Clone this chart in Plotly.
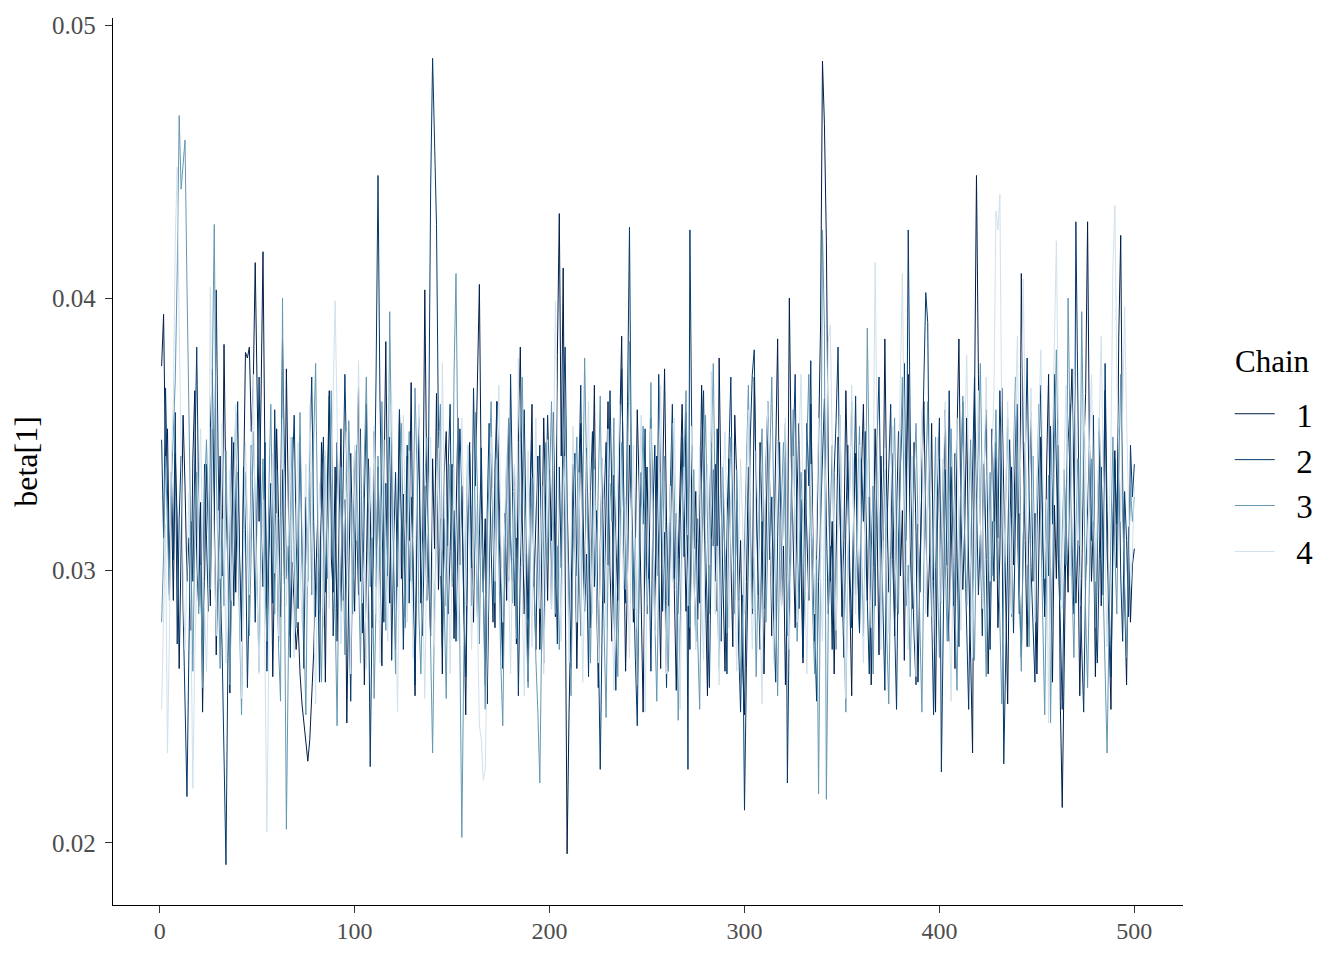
import plotly.graph_objects as go

# Trace values for beta[1], in units of 1e-4, iterations 1..500
chain1_e4 = [
    375, 394, 338, 352, 301, 327, 289, 343, 318, 264, 309, 357, 331, 296, 312, 278, 341, 366, 302, 287, 325, 248, 296, 339, 314,
    287, 352, 321, 269, 307, 342, 298, 383, 326, 301, 255, 318, 347, 292, 336, 310, 274, 329, 380, 378, 382, 351, 368, 413, 359,
    318, 364, 417, 341, 286, 309, 327, 261, 304, 352, 319, 283, 337, 295, 374, 321, 276, 303, 289, 271, 281, 262, 251, 243, 236,
    230, 238, 252, 270, 296, 318, 284, 347, 312, 259, 331, 366, 305, 292, 338, 274, 317, 352, 289, 326, 244, 301, 343, 309, 285,
    332, 367, 296, 314, 258, 306, 341, 322, 279, 351, 294, 338, 302, 265, 329, 384, 317, 288, 346, 302, 271, 315, 359, 297, 328,
    283, 342, 311, 369, 296, 254, 327, 349, 288, 316, 403, 332, 297, 276, 341, 308, 365, 293, 319, 262, 336, 351, 284, 307, 339,
    275, 318, 356, 302, 331, 289, 247, 312, 347, 306, 281, 334, 372, 405, 328, 292, 319, 251, 298, 343, 315, 279, 362, 337, 304,
    268, 321, 289, 354, 311, 296, 338, 273, 347, 382, 319, 284, 306, 259, 327, 361, 294, 318, 342, 271, 303, 356, 324, 289, 337,
    311, 358, 283, 379, 431, 342, 411, 302, 196, 248, 286, 339, 317, 264, 303, 354, 328, 291, 345, 312, 279, 323, 368, 296, 257,
    309, 341, 288, 326, 362, 301, 274, 335, 311, 289, 352, 386, 317, 263, 298, 346, 322, 281, 307, 359, 329, 291, 248, 315, 338,
    297, 356, 321, 278, 342, 306, 264, 331, 374, 318, 287, 312, 349, 293, 256, 304, 337, 361, 322, 285, 313, 271, 346, 308, 329,
    282, 317, 368, 331, 296, 254, 322, 347, 309, 339, 285, 378, 326, 299, 263, 318, 341, 304, 272, 357, 334, 289, 311, 266, 247,
    296, 338, 312, 284, 371, 326, 291, 347, 318, 262, 305, 356, 329, 276, 302, 343, 385, 318, 287, 309, 258, 293, 400, 341, 312,
    279, 328, 354, 301, 266, 337, 312, 289, 361, 322, 274, 306, 348, 389, 487, 464, 421, 338, 296, 318, 262, 307, 349, 324, 283,
    311, 366, 329, 287, 254, 319, 343, 302, 278, 336, 361, 314, 289, 327, 258, 301, 352, 318, 269, 342, 311, 385, 326, 292, 307,
    343, 276, 319, 351, 298, 322, 267, 334, 372, 309, 286, 347, 314, 259, 301, 338, 362, 319, 283, 306, 354, 296, 248, 317, 341,
    288, 326, 359, 301, 274, 338, 312, 264, 349, 385, 321, 293, 317, 356, 302, 269, 233, 361, 445, 372, 318, 286, 339, 304, 262,
    297, 352, 318, 341, 279, 306, 367, 325, 289, 251, 314, 338, 302, 357, 319, 284, 409, 346, 311, 272, 329, 358, 296, 321, 262,
    304, 349, 316, 283, 338, 372, 301, 259, 324, 297, 346, 252, 213, 266, 318, 292, 351, 374, 326, 288, 311, 254, 297, 343, 365,
    428, 339, 296, 318, 261, 305, 351, 287, 329, 366, 308, 272, 249, 319, 344, 301, 386, 423, 332, 291, 258, 316, 281, 302, 308,
]

chain2_e4 = [
    348, 312, 367, 329, 291, 336, 304, 358, 273, 319, 342, 286, 254, 217, 271, 318, 296, 347, 382, 325, 301, 268, 339, 312, 285,
    352, 374, 318, 403, 341, 296, 272, 230, 192, 268, 311, 349, 287, 326, 362, 301, 279, 338, 315, 257, 293, 346, 322, 281, 336,
    371, 318, 294, 347, 263, 305, 332, 288, 359, 316, 274, 322, 385, 341, 297, 309, 268, 334, 357, 312, 286, 349, 301, 264, 327,
    296, 342, 371, 318, 283, 306, 259, 331, 349, 292, 317, 364, 338, 276, 301, 347, 313, 285, 328, 372, 336, 289, 252, 309, 344,
    318, 291, 352, 277, 326, 361, 302, 228, 287, 319, 371, 445, 363, 314, 281, 332, 298, 349, 267, 308, 336, 294, 359, 323, 271,
    313, 346, 288, 327, 302, 258, 319, 356, 298, 276, 331, 289, 349, 440, 488, 462, 427, 351, 304, 272, 319, 287, 338, 361, 296,
    322, 274, 307, 352, 329, 286, 261, 318, 343, 301, 367, 326, 283, 312, 345, 296, 258, 321, 354, 309, 281, 338, 362, 317, 290,
    264, 305, 341, 296, 372, 329, 287, 318, 254, 301, 336, 359, 313, 282, 327, 348, 296, 271, 319, 346, 302, 266, 318, 357, 331,
    286, 349, 312, 273, 338, 301, 359, 382, 326, 291, 264, 317, 343, 298, 331, 368, 312, 285, 306, 261, 329, 351, 294, 322, 276,
    227, 281, 326, 347, 302, 366, 318, 287, 256, 309, 343, 374, 321, 288, 362, 426, 331, 297, 268, 243, 301, 336, 317, 352, 284,
    309, 263, 321, 346, 298, 372, 326, 285, 314, 257, 302, 338, 361, 297, 321, 284, 316, 349, 305, 358, 227, 425, 346, 301, 274,
    319, 288, 341, 366, 309, 282, 257, 311, 337, 296, 352, 318, 274, 329, 301, 262, 343, 371, 314, 289, 326, 272, 248, 291, 212,
    264, 311, 349, 372, 381, 326, 297, 271, 318, 286, 339, 362, 304, 327, 281, 259, 312, 347, 296, 331, 354, 222, 283, 316, 341,
    372, 309, 286, 326, 268, 301, 354, 331, 377, 304, 279, 252, 296, 318, 342, 363, 317, 284, 309, 271, 336, 355, 382, 321, 296,
    268, 317, 346, 301, 279, 322, 364, 309, 277, 341, 318, 351, 289, 262, 306, 331, 287, 348, 371, 319, 292, 256, 314, 337, 361,
    304, 281, 249, 312, 338, 359, 376, 311, 425, 352, 301, 276, 258, 317, 292, 336, 368, 402, 391, 314, 286, 247, 301, 326, 356,
    226, 281, 337, 302, 366, 318, 287, 343, 301, 272, 329, 362, 308, 281, 249, 302, 339, 371, 326, 291, 313, 276, 338, 359, 304,
    271, 318, 296, 347, 312, 366, 333, 229, 276, 306, 348, 319, 277, 327, 361, 294, 268, 311, 339, 378, 326, 301, 283, 259, 314,
    341, 368, 309, 287, 322, 298, 353, 317, 372, 336, 304, 281, 249, 296, 328, 347, 361, 309, 284, 428, 352, 301, 272, 248, 296,
    322, 347, 311, 357, 283, 266, 304, 338, 291, 376, 322, 289, 261, 306, 341, 317, 352, 298, 274, 329, 311, 283, 346, 327, 339,
]

chain3_e4 = [
    281, 306, 342, 318, 289, 331, 352, 370, 410, 467, 440, 450, 458, 405, 352, 297, 263, 311, 336, 284, 302, 257, 329, 348, 316,
    293, 372, 427, 338, 301, 264, 319, 287, 344, 306, 258, 295, 327, 358, 313, 281, 247, 304, 336, 317, 276, 309, 351, 326, 292,
    263, 318, 341, 296, 274, 329, 361, 312, 284, 337, 271, 252, 400, 297, 205, 268, 321, 349, 303, 279, 326, 358, 309, 283, 247,
    312, 336, 291, 348, 376, 318, 285, 259, 304, 342, 297, 331, 366, 314, 286, 243, 304, 338, 312, 269, 301, 355, 327, 284, 318,
    346, 299, 266, 311, 338, 371, 326, 294, 317, 253, 288, 342, 301, 362, 319, 278, 309, 395, 341, 293, 262, 306, 327, 354, 311,
    279, 324, 351, 296, 318, 367, 336, 283, 262, 301, 332, 349, 305, 272, 233, 286, 319, 344, 361, 308, 287, 253, 316, 339, 294,
    372, 409, 331, 264, 202, 268, 311, 346, 322, 287, 301, 358, 329, 273, 318, 297, 249, 311, 336, 362, 317, 288, 341, 302, 266,
    243, 297, 329, 356, 314, 288, 331, 275, 309, 348, 371, 316, 282, 257, 303, 334, 301, 267, 248, 222, 279, 318, 347, 303, 336,
    362, 318, 284, 309, 271, 296, 337, 359, 312, 281, 254, 306, 331, 349, 302, 276, 323, 378, 336, 293, 266, 312, 341, 298, 327,
    364, 309, 278, 246, 301, 332, 318, 356, 284, 261, 305, 347, 321, 293, 339, 384, 327, 286, 312, 258, 299, 328, 353, 311, 287,
    324, 369, 313, 281, 252, 297, 336, 308, 342, 289, 263, 319, 354, 327, 296, 245, 287, 316, 341, 366, 318, 279, 309, 337, 301,
    272, 249, 306, 331, 357, 318, 284, 342, 376, 322, 291, 264, 312, 338, 303, 277, 326, 349, 311, 284, 337, 301, 258, 281, 314,
    346, 368, 319, 286, 305, 261, 298, 332, 352, 307, 281, 314, 343, 371, 326, 293, 254, 306, 329, 347, 312, 276, 301, 334, 359,
    311, 274, 297, 336, 318, 289, 346, 372, 321, 284, 262, 304, 218, 300, 425, 389, 216, 284, 319, 346, 303, 271, 328, 357, 314,
    286, 248, 301, 337, 362, 318, 291, 327, 353, 306, 276, 312, 389, 337, 294, 262, 305, 342, 318, 281, 306, 337, 276, 251, 298,
    329, 356, 311, 284, 342, 371, 319, 287, 302, 261, 297, 336, 354, 308, 279, 248, 301, 333, 362, 317, 283, 314, 349, 296, 268,
    309, 341, 303, 274, 326, 352, 318, 281, 256, 303, 337, 364, 311, 287, 322, 348, 296, 267, 319, 343, 376, 328, 289, 261, 304,
    336, 298, 331, 359, 312, 277, 251, 294, 328, 356, 309, 283, 342, 371, 322, 291, 263, 311, 347, 301, 272, 318, 342, 296, 327,
    361, 318, 284, 247, 301, 335, 244, 306, 348, 381, 326, 289, 314, 337, 302, 400, 351, 296, 268, 316, 341, 309, 395, 338, 284,
    257, 303, 341, 316, 279, 311, 356, 324, 291, 262, 233, 278, 318, 349, 307, 284, 336, 372, 321, 292, 268, 304, 331, 318, 327,
]

chain4_e4 = [
    249, 288, 317, 233, 276, 341, 362, 422, 448, 390, 336, 298, 271, 306, 329, 283, 220, 268, 301, 327, 352, 311, 286, 263, 294,
    404, 341, 309, 276, 322, 297, 354, 318, 266, 301, 337, 289, 312, 361, 328, 284, 253, 306, 347, 319, 291, 336, 372, 318, 285,
    262, 299, 326, 268, 204, 271, 318, 343, 299, 321, 276, 308, 356, 331, 287, 312, 349, 296, 268, 321, 347, 303, 281, 314, 339,
    294, 361, 327, 283, 251, 306, 332, 312, 279, 344, 318, 286, 331, 371, 399, 356, 309, 273, 298, 327, 351, 304, 262, 318, 346,
    311, 377, 329, 288, 307, 264, 296, 338, 312, 353, 284, 309, 266, 321, 348, 301, 274, 337, 362, 316, 289, 248, 302, 331, 357,
    318, 281, 344, 309, 268, 296, 337, 361, 324, 287, 253, 306, 328, 349, 303, 272, 319, 345, 298, 376, 331, 287, 309, 262, 301,
    338, 312, 274, 301, 356, 321, 287, 346, 315, 271, 298, 331, 284, 243, 238, 223, 227, 276, 312, 349, 321, 296, 342, 368, 309,
    281, 318, 343, 297, 262, 304, 339, 312, 378, 326, 291, 254, 317, 344, 302, 272, 321, 356, 309, 286, 331, 262, 297, 348, 316,
    286, 338, 399, 348, 301, 274, 317, 342, 296, 266, 309, 353, 318, 281, 336, 304, 259, 298, 327, 362, 311, 284, 337, 298, 266,
    304, 341, 316, 279, 352, 321, 284, 256, 309, 336, 361, 318, 293, 327, 301, 268, 314, 346, 302, 279, 331, 357, 309, 248, 291,
    324, 352, 311, 276, 301, 342, 368, 317, 286, 262, 309, 331, 296, 356, 318, 281, 249, 306, 338, 312, 287, 324, 353, 301, 271,
    311, 346, 289, 267, 318, 339, 302, 373, 326, 284, 309, 258, 296, 334, 351, 311, 279, 322, 347, 296, 263, 306, 341, 318, 284,
    329, 359, 303, 271, 298, 344, 317, 282, 251, 306, 337, 362, 318, 292, 266, 311, 348, 321, 287, 331, 356, 298, 271, 309, 342,
    316, 281, 347, 372, 326, 293, 262, 308, 339, 311, 284, 321, 356, 298, 274, 319, 343, 384, 390, 346, 306, 278, 322, 357, 314,
    289, 253, 302, 331, 368, 318, 284, 309, 346, 297, 266, 312, 341, 302, 279, 331, 413, 352, 306, 271, 318, 345, 301, 277, 326,
    353, 312, 286, 334, 368, 409, 346, 303, 271, 318, 342, 297, 261, 306, 333, 359, 311, 284, 327, 352, 297, 273, 318, 349, 322,
    288, 336, 362, 317, 281, 252, 304, 331, 356, 309, 278, 322, 348, 379, 336, 297, 268, 314, 343, 366, 318, 286, 337, 371, 329,
    296, 341, 367, 432, 425, 438, 351, 303, 327, 362, 316, 284, 332, 358, 386, 321, 351, 407, 346, 302, 331, 367, 319, 281, 328,
    356, 381, 338, 297, 326, 244, 312, 349, 374, 421, 357, 319, 286, 341, 368, 326, 298, 339, 374, 352, 311, 287, 329, 363, 337,
    302, 345, 372, 331, 296, 321, 358, 386, 337, 309, 272, 318, 346, 411, 434, 372, 341, 318, 359, 397, 356, 318, 294, 306, 331,
]

chain_names = ["1", "2", "3", "4"]
chain_colors = ["#011f4b", "#03396c", "#6497b1", "#d1e1ec"]
x_ticks = [0, 100, 200, 300, 400, 500]
y_ticks = [0.02, 0.03, 0.04, 0.05]
y_tick_labels = ["0.02", "0.03", "0.04", "0.05"]
legend_title = "Chain"
y_title = "beta[1]"

chains = [chain1_e4, chain2_e4, chain3_e4, chain4_e4]

FONT = "Liberation Serif"
NBSP = "\u00a0"

fig = go.Figure()
for name, color, vals in zip(chain_names, chain_colors, chains):
    fig.add_trace(go.Scatter(
        x=list(range(1, len(vals) + 1)),
        y=[v / 10000.0 for v in vals],
        mode="lines",
        name=NBSP * 2 + name,
        line=dict(color=color, width=1),
    ))

all_vals = [v / 10000.0 for c in chains for v in c]
ymin, ymax = min(all_vals), max(all_vals)
ypad = (ymax - ymin) * 0.05
n_iter = max(len(c) for c in chains)
xpad = (n_iter - 1) * 0.05

fig.update_layout(
    width=1328, height=944,
    margin=dict(l=105, r=153, t=4, b=47),
    paper_bgcolor="white",
    plot_bgcolor="white",
    font=dict(family=FONT, color="black"),
    showlegend=True,
    legend=dict(
        font=dict(family=FONT, size=33, color="black"),
        x=1.0437, xanchor="left", y=0.476, yanchor="middle",
        bgcolor="rgba(0,0,0,0)",
        itemwidth=40,
        tracegroupgap=0,
    ),
    annotations=[dict(
        text=legend_title, xref="paper", yref="paper",
        x=1.0467, y=0.6125, xanchor="left", yanchor="middle",
        showarrow=False, font=dict(family=FONT, size=31, color="black"),
    )],
)
fig.update_xaxes(
    range=[1 - xpad, n_iter + xpad],
    tickvals=x_ticks,
    ticktext=[str(t) for t in x_ticks],
    showgrid=False, zeroline=False,
    showline=True, linecolor="black", linewidth=1.3,
    ticks="outside", ticklen=7, tickcolor="#333333", tickwidth=1.1,
    ticklabelstandoff=-3,
    ticklabeloverflow="allow",
    tickfont=dict(family=FONT, size=24, color="#4d4d4d"),
)
fig.update_yaxes(
    range=[ymin - ypad, ymax + ypad],
    tickvals=y_ticks,
    ticktext=y_tick_labels,
    showgrid=False, zeroline=False,
    showline=True, linecolor="black", linewidth=1.3,
    ticks="outside", ticklen=7, tickcolor="#333333", tickwidth=1.1,
    ticklabelstandoff=4,
    ticklabeloverflow="allow",
    tickfont=dict(family=FONT, size=25, color="#4d4d4d"),
    title=dict(text=y_title, font=dict(family=FONT, size=32, color="black"), standoff=10),
)

fig.write_html("out.html")
